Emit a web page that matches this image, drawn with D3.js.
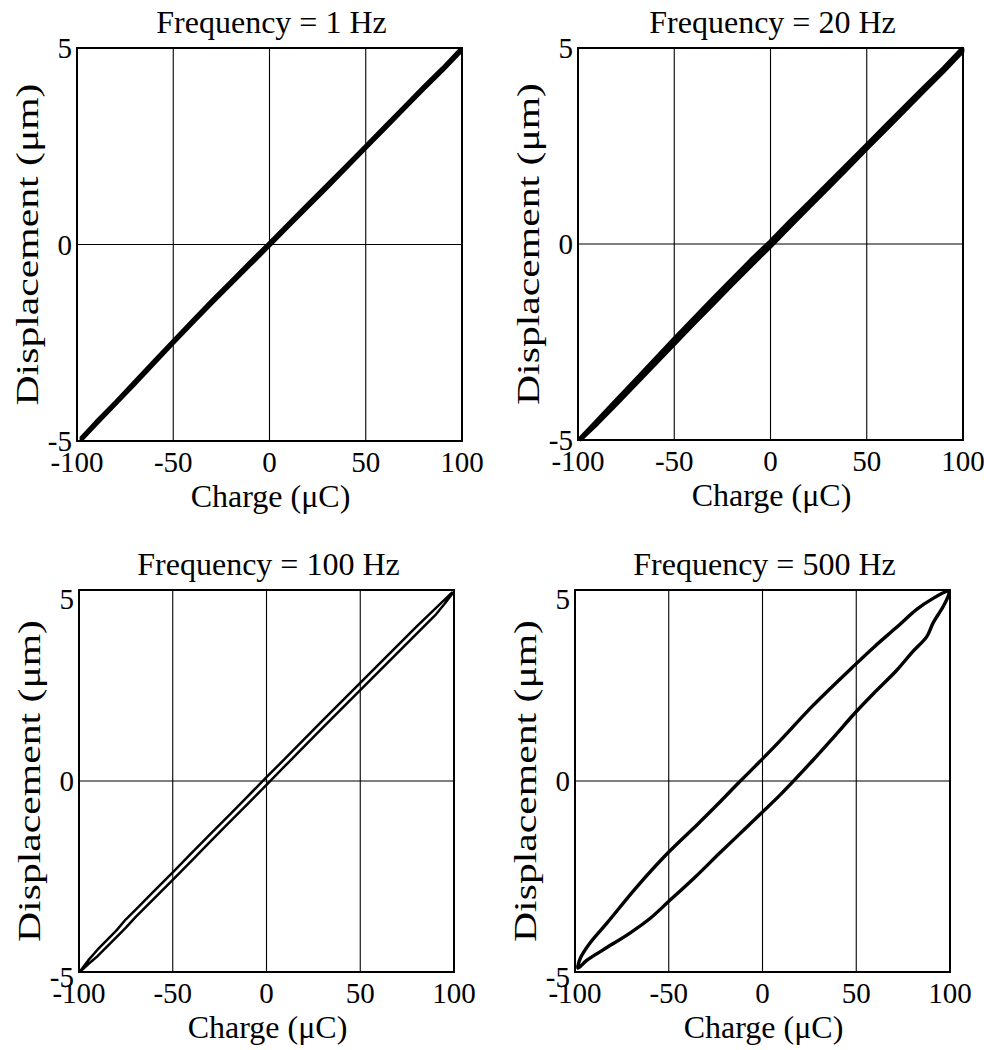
<!DOCTYPE html>
<html>
<head>
<meta charset="utf-8">
<script src="https://cdn.jsdelivr.net/npm/d3@7"></script>
<style>
  html, body { margin: 0; padding: 0; background: #fff; }
  svg text { font-family: "Liberation Serif", "Times New Roman", serif; fill: #000; }
</style>
</head>
<body>
<svg id="chart" width="984" height="1050"></svg>
<script>
// Charge vs displacement loops of a piezo actuator at four drive frequencies.
const frequencies = [1, 20, 100, 500];
const titles = frequencies.map(f => `Frequency = ${f} Hz`);
const xTicks = [-100, -50, 0, 50, 100];
const yTicks = [-5, 0, 5];
const xGrid = [-50, 0, 50];
const yGrid = [0];
const xLabel = "Charge (\u03BCC)";
const yLabel = "Displacement (\u03BCm)";

// [charge µC, displacement µm], rising branch then falling branch
const loop1Hz = [
  [-97.5,-4.92],[-90,-4.52],[-80,-4.02],[-70,-3.50],[-60,-2.98],[-50,-2.46],[-40,-1.95],
  [-30,-1.44],[-20,-0.95],[-10,-0.45],[0,0.03],[10,0.53],[20,1.02],[30,1.51],[40,2.00],
  [50,2.50],[60,3.00],[70,3.50],[80,4.00],[90,4.48],[99.3,4.96],
  [99.3,4.92],[90,4.44],[80,3.96],[70,3.46],[60,2.96],[50,2.46],[40,1.96],[30,1.46],
  [20,0.97],[10,0.48],[0,-0.02],[-10,-0.51],[-20,-1.00],[-30,-1.49],[-40,-1.99],
  [-50,-2.50],[-60,-3.02],[-70,-3.54],[-80,-4.05],[-90,-4.56],[-97.5,-4.95]
];
const loop20Hz = [
  [-98.5,-4.95],[-90,-4.51],[-80,-3.99],[-70,-3.47],[-60,-2.95],[-50,-2.43],[-40,-1.92],
  [-30,-1.41],[-20,-0.91],[-10,-0.41],[0,0.06],[10,0.56],[20,1.05],[30,1.54],[40,2.03],
  [50,2.52],[60,3.02],[70,3.51],[80,4.00],[90,4.48],[99.5,4.97],
  [99.5,4.91],[90,4.42],[80,3.93],[70,3.43],[60,2.93],[50,2.44],[40,1.94],[30,1.44],
  [20,0.95],[10,0.45],[0,-0.05],[-10,-0.54],[-20,-1.03],[-30,-1.53],[-40,-2.03],
  [-50,-2.54],[-60,-3.05],[-70,-3.56],[-80,-4.07],[-90,-4.57],[-98.5,-4.97]
];
const loop100Hz = [
  [-98.9,-4.95],[-95,-4.69],[-90,-4.41],[-80,-3.91],[-75,-3.62],[-70,-3.38],[-60,-2.88],
  [-50,-2.39],[-40,-1.89],[-30,-1.39],[-20,-0.90],[-10,-0.40],[0,0.10],[10,0.59],
  [20,1.09],[30,1.59],[40,2.08],[50,2.57],[60,3.06],[70,3.55],[80,4.04],[90,4.51],[98.9,4.93],
  [98.9,4.89],[95,4.64],[90,4.34],[80,3.85],[70,3.36],[60,2.87],[50,2.38],[40,1.89],
  [30,1.40],[20,0.90],[10,0.40],[0,-0.10],[-10,-0.60],[-20,-1.09],[-30,-1.59],[-40,-2.09],
  [-50,-2.59],[-60,-3.08],[-70,-3.57],[-75,-3.84],[-80,-4.09],[-90,-4.58],[-95,-4.79],[-98.9,-4.97]
];
const loop500Hz = [
  [-98.5,-4.85],[-97,-4.62],[-92,-4.24],[-83,-3.72],[-67,-2.77],[-50,-1.86],[-35,-1.15],
  [-22.7,-0.55],[-13,-0.06],[0,0.58],[9.3,1.05],[27,1.98],[49.3,3.04],[60,3.53],[71.7,4.03],
  [82.4,4.50],[91,4.78],[98.4,4.97],[99.6,4.97],
  [99.2,4.86],[96.3,4.56],[91,4.14],[87.6,3.78],[80,3.38],[71.6,2.90],[60,2.33],
  [49.3,1.78],[38,1.15],[27,0.55],[9.3,-0.37],[0,-0.81],[-11,-1.33],[-22.7,-1.88],[-36,-2.52],
  [-50.4,-3.17],[-60,-3.60],[-70.7,-3.98],[-85,-4.42],[-93.6,-4.69],[-98.4,-4.90],[-98.5,-4.85]
];
const loops = [loop1Hz, loop20Hz, loop100Hz, loop500Hz];

// Plot frames and per-panel drawing details
const panels = [
  { left: 77,  top: 48,  width: 385, height: 393, stroke: 4.4, curve: d3.curveLinear,     tickDy: [0, 0] },
  { left: 578, top: 48,  width: 385, height: 392, stroke: 4.8, curve: d3.curveLinear,     tickDy: [0, 0] },
  { left: 79,  top: 590, width: 375, height: 382, stroke: 2.5, curve: d3.curveLinear,     tickDy: [9, 5] },
  { left: 575, top: 590, width: 375, height: 382, stroke: 3.4, curve: d3.curveCatmullRom, tickDy: [9, 5] }
];

const tickSize = 29;
const labelSize = 32;
const yLabelLength = 322;
const svg = d3.select("#chart");

panels.forEach((p, i) => {
  const x = d3.scaleLinear().domain([-100, 100]).range([p.left, p.left + p.width]);
  const y = d3.scaleLinear().domain([-5, 5]).range([p.top + p.height, p.top]);
  const g = svg.append("g");

  // grid lines
  g.selectAll("line.vx").data(xGrid).join("line")
    .attr("x1", d => x(d)).attr("x2", d => x(d))
    .attr("y1", p.top).attr("y2", p.top + p.height)
    .attr("stroke", "#000").attr("stroke-width", 1.1);
  g.selectAll("line.hy").data(yGrid).join("line")
    .attr("class", "hy")
    .attr("x1", p.left).attr("x2", p.left + p.width)
    .attr("y1", d => y(d)).attr("y2", d => y(d))
    .attr("stroke", "#000").attr("stroke-width", 1.1);

  // loop
  const line = d3.line().x(d => x(d[0])).y(d => y(d[1])).curve(p.curve);
  g.append("path")
    .attr("d", line(loops[i]))
    .attr("fill", "none")
    .attr("stroke", "#000")
    .attr("stroke-width", p.stroke)
    .attr("stroke-linejoin", "round")
    .attr("stroke-linecap", "round");

  // frame
  g.append("rect")
    .attr("x", p.left).attr("y", p.top)
    .attr("width", p.width).attr("height", p.height)
    .attr("fill", "none").attr("stroke", "#000").attr("stroke-width", 2);

  // x tick labels
  g.selectAll("text.xt").data(xTicks).join("text")
    .attr("x", d => x(d))
    .attr("y", p.top + p.height + 31)
    .attr("text-anchor", "middle")
    .attr("font-size", tickSize)
    .text(d => d);

  // y tick labels
  g.selectAll("text.yt").data(yTicks).join("text")
    .attr("x", p.left - 5)
    .attr("y", d => y(d) + (d === 5 ? p.tickDy[0] : d === -5 ? p.tickDy[1] : 0))
    .attr("text-anchor", "end")
    .attr("dominant-baseline", "central")
    .attr("font-size", tickSize)
    .text(d => d);

  // title
  g.append("text")
    .attr("x", p.left + p.width / 2 + 2)
    .attr("y", p.top - 15)
    .attr("text-anchor", "middle")
    .attr("font-size", labelSize)
    .text(titles[i]);

  // x axis title
  g.append("text")
    .attr("x", p.left + p.width / 2 + 1)
    .attr("y", p.top + p.height + 66)
    .attr("text-anchor", "middle")
    .attr("font-size", labelSize)
    .text(xLabel);

  // y axis title
  g.append("text")
    .attr("transform", `translate(${p.left - 50},${p.top + p.height / 2}) rotate(-90)`)
    .attr("text-anchor", "middle")
    .attr("dominant-baseline", "central")
    .attr("font-size", labelSize)
    .attr("textLength", yLabelLength)
    .attr("lengthAdjust", "spacingAndGlyphs")
    .text(yLabel);
});
</script>
</body>
</html>
